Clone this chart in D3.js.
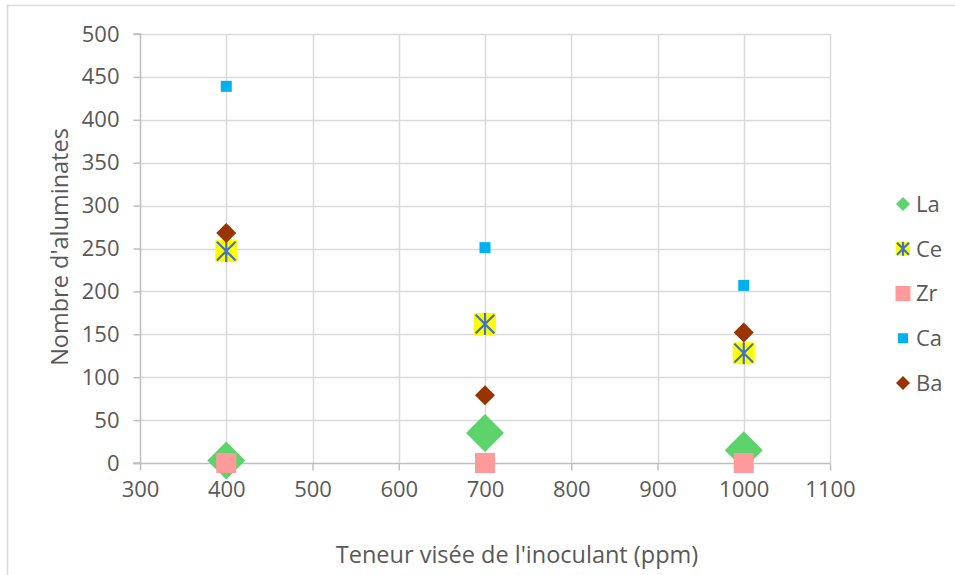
<!DOCTYPE html>
<html>
<head>
<meta charset="utf-8">
<script src="https://cdn.jsdelivr.net/npm/d3@7"></script>
<style>
  html, body { margin: 0; padding: 0; background: #fff; }
  svg { display: block; }
  text { font-family: "Open Sans", sans-serif; fill: #595959; }
</style>
</head>
<body>
<svg id="chart" width="955" height="575"></svg>
<script>
// ---- data ----
const xValues = [400, 700, 1000];
const seriesNames = ["La", "Ce", "Zr", "Ca", "Ba"];
const La = [3, 35, 15];
const Ce = [247, 162, 128];
const Zr = [0, 0, 0];
const Ca = [439, 251, 207];
const Ba = [268, 79, 152];
const xTicks = [300, 400, 500, 600, 700, 800, 900, 1000, 1100];
const yTicks = [0, 50, 100, 150, 200, 250, 300, 350, 400, 450, 500];
const xTitle = "Teneur visée de l'inoculant (ppm)";
const yTitle = "Nombre d'aluminates";

const seriesValues = { La, Ce, Zr, Ca, Ba };
const styles = {
  La: { shape: "diamond", size: 19, fill: "#5dd36b", legendSize: 7 },
  Ce: { shape: "star", size: 11, fill: "#ffff00", stroke: "#4472c4", legendSize: 7 },
  Zr: { shape: "square", size: 10, fill: "#ff9a9a", legendSize: 7.5 },
  Ca: { shape: "square", size: 5.5, fill: "#00b0f0", legendSize: 5 },
  Ba: { shape: "diamond", size: 10, fill: "#993300", legendSize: 7 }
};

const svg = d3.select("#chart");
// chart border
svg.append("path").attr("d", "M7.5,575 V5.5 H955")
  .attr("fill", "none").attr("stroke", "#d9d9d9").attr("stroke-width", 1.5);

const pLeft = 140, pRight = 830, pTop = 34, pBottom = 463;
const x = d3.scaleLinear().domain([300, 1100]).range([pLeft, pRight]);
const y = d3.scaleLinear().domain([0, 500]).range([pBottom, pTop]);

// gridlines
svg.append("g").selectAll("line").data(yTicks.filter(d => d !== 0)).join("line")
  .attr("x1", pLeft).attr("x2", pRight)
  .attr("y1", d => Math.round(y(d)) + 0.5).attr("y2", d => Math.round(y(d)) + 0.5)
  .attr("stroke", "#d9d9d9").attr("stroke-width", 1.5);
svg.append("g").selectAll("line").data(xTicks.filter(d => d !== 300)).join("line")
  .attr("y1", pTop).attr("y2", pBottom)
  .attr("x1", d => Math.round(x(d)) + 0.5).attr("x2", d => Math.round(x(d)) + 0.5)
  .attr("stroke", "#d9d9d9").attr("stroke-width", 1.5);

// axes
const fmt = d3.format("d");
const yAxis = d3.axisLeft(y).tickValues(yTicks).tickFormat(fmt).tickSize(7).tickPadding(14);
const xAxis = d3.axisBottom(x).tickValues(xTicks).tickFormat(fmt).tickSize(7).tickPadding(9);
const gy = svg.append("g").attr("transform", `translate(${pLeft + 0.5},0)`).call(yAxis);
const gx = svg.append("g").attr("transform", `translate(0,${pBottom + 0.5})`).call(xAxis);
[gx, gy].forEach(g => {
  g.select(".domain").attr("stroke", "#bfbfbf").attr("stroke-width", 1.5);
  g.selectAll(".tick line").attr("stroke", "#bfbfbf").attr("stroke-width", 1.5);
  g.selectAll(".tick text").attr("fill", "#595959")
    .style("font-family", "'Open Sans', sans-serif").style("font-size", "22px");
});
gy.select(".domain").attr("d", `M-7,${pTop}H0V${pBottom}H-7`);
gx.select(".domain").attr("d", `M${pLeft - 7},0H${pRight}`);
gx.selectAll(".tick text").attr("dy", "0.8em");

// axis titles
svg.append("text").attr("x", 517).attr("y", 563).attr("text-anchor", "middle")
  .style("font-size", "23.5px").text(xTitle);
svg.append("text").attr("transform", "translate(68,247) rotate(-90)").attr("text-anchor", "middle")
  .style("font-size", "23.5px").text(yTitle);

function drawMarker(g, st, s) {
  if (st.shape === "diamond") {
    g.append("path").attr("d", `M0,${-s}L${s},0L0,${s}L${-s},0Z`).attr("fill", st.fill);
  } else if (st.shape === "square") {
    g.append("rect").attr("x", -s).attr("y", -s).attr("width", 2 * s).attr("height", 2 * s).attr("fill", st.fill);
  } else if (st.shape === "star") {
    g.append("rect").attr("x", -s).attr("y", -s).attr("width", 2 * s).attr("height", 2 * s).attr("fill", st.fill);
    const k = s * 0.85;
    g.append("path").attr("d", `M${-k},${-k}L${k},${k}M${k},${-k}L${-k},${k}M0,${-s}L0,${s}`)
      .attr("stroke", st.stroke).attr("stroke-width", 2.2).attr("fill", "none");
  }
}

// series
const plot = svg.append("g");
seriesNames.forEach(name => {
  const st = styles[name];
  seriesValues[name].forEach((v, i) => {
    const g = plot.append("g").attr("transform", `translate(${x(xValues[i])},${y(v)})`);
    drawMarker(g, st, st.size);
  });
});

// legend
const legendY = d3.scalePoint().domain(seriesNames).range([204, 383]);
seriesNames.forEach(name => {
  const st = styles[name];
  const g = svg.append("g").attr("transform", `translate(903,${legendY(name)})`);
  drawMarker(g, st, st.legendSize);
  svg.append("text").attr("x", 916).attr("y", legendY(name)).attr("dy", "0.36em")
    .style("font-size", "22px").text(name);
});
</script>
</body>
</html>
